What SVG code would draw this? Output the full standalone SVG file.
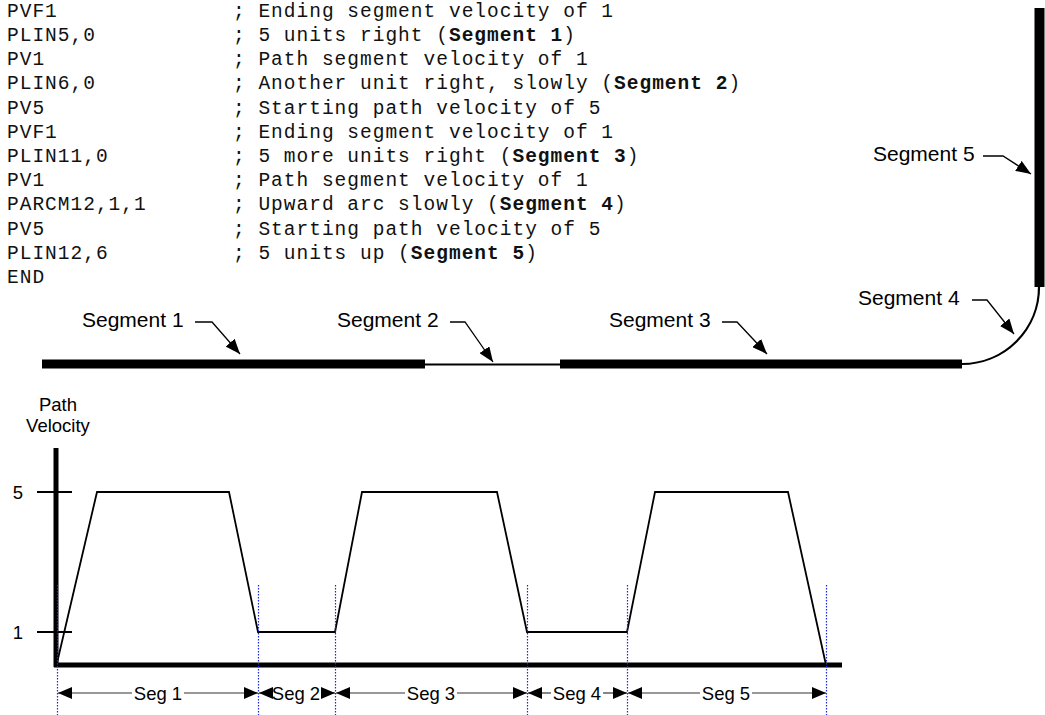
<svg xmlns="http://www.w3.org/2000/svg" width="1045" height="715" viewBox="0 0 1045 715">
<style>
.code{font-family:"Liberation Mono","Courier New",monospace;font-size:19.5px;letter-spacing:1px;fill:#111}
.b{font-weight:bold}
.lbl{font-family:"Liberation Sans",Arial,sans-serif;font-size:21px;fill:#000}
.sm{font-family:"Liberation Sans",Arial,sans-serif;font-size:18.5px;fill:#000}
.leader{fill:none;stroke:#000;stroke-width:1.3;marker-end:url(#big)}
.dim{fill:none;stroke:#333;stroke-width:1.2}
.dot{stroke:#1a2bd6;stroke-width:1.2;stroke-dasharray:1.5 1.5;fill:none}
.thick{stroke:#000;stroke-width:9;fill:none}
</style>
<defs>
<marker id="big" markerUnits="userSpaceOnUse" markerWidth="16" markerHeight="12" refX="15" refY="6" orient="auto" viewBox="0 0 16 12">
<path d="M0,0 L15,6 L0,12 z" fill="#000"/>
</marker>
<marker id="ah" markerUnits="userSpaceOnUse" markerWidth="14" markerHeight="12" refX="14" refY="6" orient="auto" viewBox="0 0 14 12">
<path d="M0,0 L14,6 L0,12 z" fill="#000"/>
</marker>
</defs>

<g id="code">
<text class="code" x="7" y="16.5">PVF1</text>
<text class="code" x="7" y="40.5">PLIN5,0</text>
<text class="code" x="7" y="65">PV1</text>
<text class="code" x="7" y="89">PLIN6,0</text>
<text class="code" x="7" y="113.5">PV5</text>
<text class="code" x="7" y="137.5">PVF1</text>
<text class="code" x="7" y="161.5">PLIN11,0</text>
<text class="code" x="7" y="186">PV1</text>
<text class="code" x="7" y="210">PARCM12,1,1</text>
<text class="code" x="7" y="234.5">PV5</text>
<text class="code" x="7" y="258.5">PLIN12,6</text>
<text class="code" x="7" y="282.5">END</text>
<text class="code" x="233" y="16.5">; Ending segment velocity of 1</text>
<text class="code" x="233" y="40.5">; 5 units right (<tspan class="b">Segment 1</tspan>)</text>
<text class="code" x="233" y="65">; Path segment velocity of 1</text>
<text class="code" x="233" y="89">; Another unit right, slowly (<tspan class="b">Segment 2</tspan>)</text>
<text class="code" x="233" y="113.5">; Starting path velocity of 5</text>
<text class="code" x="233" y="137.5">; Ending segment velocity of 1</text>
<text class="code" x="233" y="161.5">; 5 more units right (<tspan class="b">Segment 3</tspan>)</text>
<text class="code" x="233" y="186">; Path segment velocity of 1</text>
<text class="code" x="233" y="210">; Upward arc slowly (<tspan class="b">Segment 4</tspan>)</text>
<text class="code" x="233" y="234.5">; Starting path velocity of 5</text>
<text class="code" x="233" y="258.5">; 5 units up (<tspan class="b">Segment 5</tspan>)</text>
</g>

<g id="path">
<line class="thick" x1="42" y1="364" x2="425" y2="364"/>
<line x1="425" y1="364.5" x2="560" y2="364.5" stroke="#000" stroke-width="2"/>
<line class="thick" x1="560" y1="364" x2="962" y2="364"/>
<path d="M962,364 A77,77 0 0 0 1039,287" fill="none" stroke="#000" stroke-width="2.2"/>
<line x1="1039.5" y1="8" x2="1039.5" y2="287" stroke="#000" stroke-width="10"/>
</g>

<g id="segment-labels">
<text class="lbl" x="82" y="327">Segment 1</text>
<text class="lbl" x="337" y="327">Segment 2</text>
<text class="lbl" x="609" y="327">Segment 3</text>
<text class="lbl" x="858" y="305">Segment 4</text>
<text class="lbl" x="873" y="161">Segment 5</text>
</g>

<g id="connectors">
<path class="leader" d="M195,322 H212 L240,354"/>
<path class="leader" d="M450,322 H465 L493,362"/>
<path class="leader" d="M722,322 H737 L767,354"/>
<path class="leader" d="M972,300 H987 L1014,334"/>
<path class="leader" d="M983,156 H1003 L1031,174"/>
</g>

<g id="graph">
<text class="sm" x="58" y="411" text-anchor="middle">Path</text>
<text class="sm" x="58" y="432" text-anchor="middle">Velocity</text>
<line x1="56" y1="448" x2="56" y2="667" stroke="#000" stroke-width="5"/>
<line x1="54" y1="665" x2="842" y2="665" stroke="#000" stroke-width="5"/>
<line x1="37" y1="492" x2="72" y2="492" stroke="#000" stroke-width="2"/>
<line x1="37" y1="632" x2="72" y2="632" stroke="#000" stroke-width="2"/>
<text class="sm" x="18" y="499" text-anchor="middle">5</text>
<text class="sm" x="18" y="639" text-anchor="middle">1</text>
<polyline points="57,663 97,492 229,492 258,632 335,632 362,492 497,492 527,632 627,632 655,492 788,492 826,665" fill="none" stroke="#000" stroke-width="1.8"/>
</g>

<g id="boundaries">
<line class="dot" x1="57.5" y1="585" x2="57.5" y2="715"/>
<line class="dot" x1="258.5" y1="585" x2="258.5" y2="715"/>
<line class="dot" x1="335.5" y1="585" x2="335.5" y2="715"/>
<line class="dot" x1="527.5" y1="585" x2="527.5" y2="715"/>
<line class="dot" x1="627.5" y1="585" x2="627.5" y2="715"/>
<line class="dot" x1="826.5" y1="585" x2="826.5" y2="715"/>
</g>

<g id="seg-dims">
<path class="dim" d="M132,693 H58" marker-end="url(#ah)"/>
<path class="dim" d="M184,693 H258" marker-end="url(#ah)"/>
<text class="sm" x="158" y="700" text-anchor="middle">Seg 1</text>
<path class="dim" d="M271,693 H259" marker-end="url(#ah)"/>
<path class="dim" d="M322,693 H335" marker-end="url(#ah)"/>
<text class="sm" x="296" y="700" text-anchor="middle">Seg 2</text>
<path class="dim" d="M405,693 H336" marker-end="url(#ah)"/>
<path class="dim" d="M457,693 H527" marker-end="url(#ah)"/>
<text class="sm" x="431" y="700" text-anchor="middle">Seg 3</text>
<path class="dim" d="M551,693 H528" marker-end="url(#ah)"/>
<path class="dim" d="M603,693 H627" marker-end="url(#ah)"/>
<text class="sm" x="577" y="700" text-anchor="middle">Seg 4</text>
<path class="dim" d="M700,693 H628" marker-end="url(#ah)"/>
<path class="dim" d="M752,693 H826" marker-end="url(#ah)"/>
<text class="sm" x="726" y="700" text-anchor="middle">Seg 5</text>
</g>
</svg>
